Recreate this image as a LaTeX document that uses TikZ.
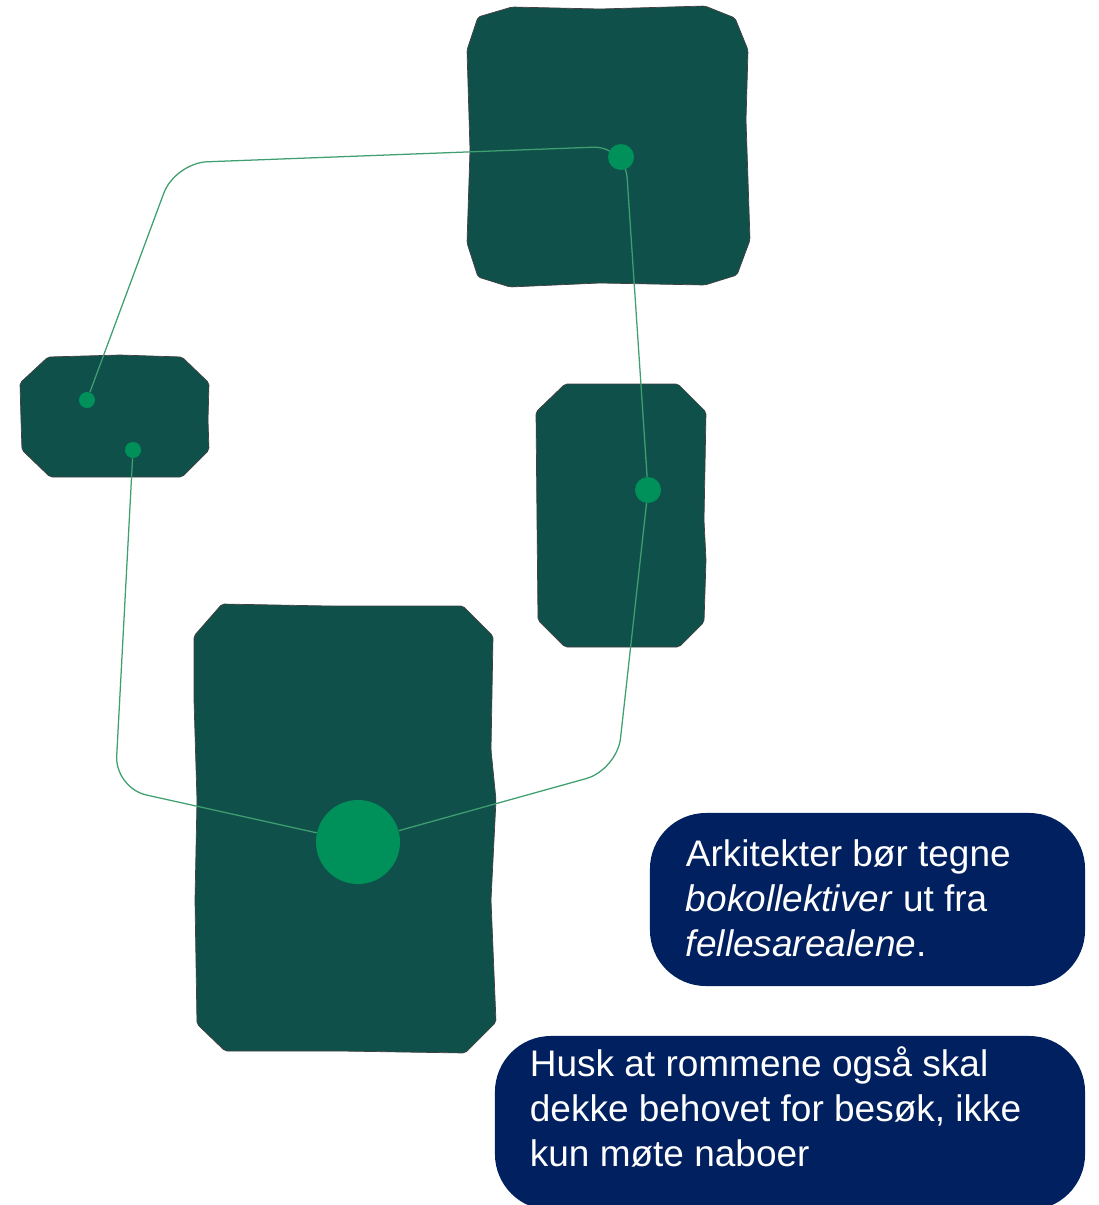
\documentclass[tikz,border=0pt]{standalone}
\usepackage{fontspec}
\setmainfont{Liberation Sans}
\definecolor{roomgreen}{HTML}{10504B}
\definecolor{dotgreen}{HTML}{00915A}
\definecolor{linkgreen}{HTML}{3F9F70}
\definecolor{notenavy}{HTML}{00205F}
\pgfdeclarelayer{bg}
\pgfsetlayers{bg,main}
\begin{document}
\begin{tikzpicture}[x=0.025cm, y=-0.025cm,
  room/.style={fill=roomgreen, draw=black!75, line width=0.5pt, rounded corners=1.5pt},
  dot/.style={circle, fill=dotgreen, inner sep=0pt},
  link/.style={draw=linkgreen, line width=0.9pt, rounded corners=0.8cm},
  note/.style={rectangle, fill=notenavy, rounded corners=1.4cm, inner sep=0pt},
  notetext/.style={text=white, align=left, inner sep=0pt, anchor=base west, font=\fontsize{26.3}{32}\selectfont}]
  \useasboundingbox (0,0) rectangle (1099,1205);
  \begin{pgfonlayer}{bg}
    \draw[room] (478,17) -- (512,7) -- (600,9) -- (705,6) -- (735,18) -- (748,50) -- (746,120) -- (750,240)
      -- (737,275) -- (705,285) -- (600,283) -- (510,287) -- (478,277) -- (467,243) -- (470,150) -- (467,50) -- cycle;
    \draw[room] (48,357) -- (120,355) -- (182,357) -- (209,383) -- (208,420) -- (209,450) -- (182,477)
      -- (50,477) -- (22,450) -- (21,420) -- (20,383) -- cycle;
    \draw[room] (565,384) -- (678,384) -- (706,412) -- (704,520) -- (706,560) -- (704,622) -- (679,647)
      -- (565,647) -- (538,620) -- (537,520) -- (536,412) -- cycle;
    \draw[room] (222,604) -- (330,606) -- (463,606) -- (493,636) -- (491,750) -- (496,800) -- (491,900) -- (496,1022)
      -- (465,1053) -- (340,1051) -- (225,1051) -- (197,1024) -- (195,900) -- (197,800) -- (194,700) -- (194,636) -- cycle;
  \end{pgfonlayer}
  % dots
  \foreach \n/\xx/\yy/\d in {t/621/157/0.65, r/648/490/0.65, la/87/400/0.4, lb/133/450/0.4, c/358/842/2.1}
    \node[dot, minimum size=\d cm] (\n) at (\xx,\yy) {};
  \coordinate (k1) at (175,163);
  \coordinate (k2) at (625,146);
  \coordinate (k3) at (617,770);
  \coordinate (k4) at (115,788);
  \begin{pgfonlayer}{bg}
    \draw[link] (la) -- (k1) -- (k2) -- (r);
    \draw[link] (r) -- (k3) -- (c);
    \draw[link] (lb) -- (k4) -- (c);
  \end{pgfonlayer}
  % notes (base = last line)
  \node[note, minimum width=10.875cm, minimum height=4.325cm] (n1) at (867.5,899.5) {};
  \node[notetext] (t1) at ([shift={(36,144)}]n1.north west) {Arkitekter bør tegne\\\textit{bokollektiver} ut fra\\\textit{fellesarealene}.};
  \node[note, minimum width=14.75cm, minimum height=4.35cm] (n2) at (790,1123) {};
  \node[notetext] (t2) at ([shift={(35,131)}]n2.north west) {Husk at rommene også skal\\dekke behovet for besøk, ikke\\kun møte naboer};
\end{tikzpicture}
\end{document}
